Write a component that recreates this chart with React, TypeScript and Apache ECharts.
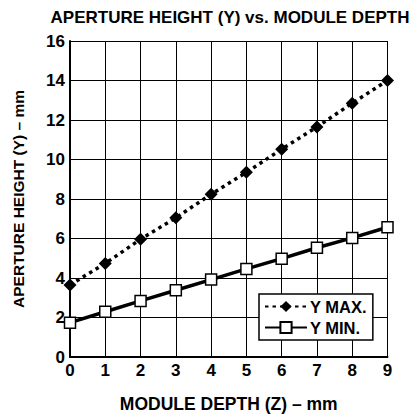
import React, { useEffect, useRef } from "react";
import * as echarts from "echarts";

const depthZ = [0, 1, 2, 3, 4, 5, 6, 7, 8, 9];
const yMax = [3.65, 4.74, 5.96, 7.05, 8.24, 9.35, 10.52, 11.65, 12.85, 14.0];
const yMin = [1.74, 2.29, 2.84, 3.38, 3.92, 4.46, 4.98, 5.53, 6.03, 6.57];
const seriesNames = ["Y MAX.", "Y MIN."];
const titleText = "APERTURE HEIGHT (Y) vs. MODULE DEPTH";
const xName = "MODULE DEPTH (Z) – mm";
const yName = "APERTURE HEIGHT (Y) – mm";

const FONT = "Liberation Sans, Arial, sans-serif";

export default function App() {
  const ref = useRef<HTMLDivElement>(null);
  useEffect(() => {
    if (!ref.current) return;
    const chart = echarts.init(ref.current, undefined, { renderer: "svg" });
    const labelStyle = { color: "#000", fontWeight: "bold" as const, fontSize: 17, fontFamily: FONT };
    chart.setOption({
      animation: false,
      backgroundColor: "#fff",
      title: {
        text: titleText,
        left: 225,
        textAlign: "center",
        top: 4,
        textStyle: { color: "#000", fontWeight: "bold", fontSize: 17, fontFamily: FONT },
      },
      grid: { left: 70, right: 29.5, top: 41, bottom: 61, containLabel: false },
      legend: {
        data: seriesNames,
        orient: "vertical",
        left: 259,
        top: 294,
        padding: [4, 6, 4, 5],
        itemGap: 4,
        itemWidth: 42,
        itemHeight: 14,
        backgroundColor: "#fff",
        borderColor: "#000",
        borderWidth: 1.5,
        borderRadius: 0,
        textStyle: { ...labelStyle, fontSize: 16.5, padding: [0, 0, 0, -2] },
      },
      xAxis: {
        type: "value",
        min: 0,
        max: 9,
        interval: 1,
        name: xName,
        nameLocation: "middle",
        nameGap: 38,
        nameTextStyle: { ...labelStyle, fontSize: 17.5 },
        axisLine: { show: true, lineStyle: { color: "#000", width: 2 } },
        axisTick: { show: false },
        axisLabel: { ...labelStyle, margin: 5 },
        splitLine: { show: true, lineStyle: { color: "#000", width: 1 } },
      },
      yAxis: {
        type: "value",
        min: 0,
        max: 16,
        interval: 2,
        name: yName,
        nameLocation: "middle",
        nameGap: 44,
        nameTextStyle: { ...labelStyle, fontSize: 15.5 },
        axisLine: { show: true, lineStyle: { color: "#000", width: 2 } },
        axisTick: { show: false },
        axisLabel: { ...labelStyle, margin: 5 },
        splitLine: { show: true, lineStyle: { color: "#000", width: 1 } },
      },
      series: [
        {
          name: seriesNames[0],
          type: "line",
          data: depthZ.map((z, i) => [z, yMax[i]]),
          symbol: "diamond",
          symbolSize: 13,
          itemStyle: { color: "#000" },
          lineStyle: { color: "#000", width: 3.5, type: [3.5, 4] },
          z: 3,
        },
        {
          name: seriesNames[1],
          type: "line",
          data: depthZ.map((z, i) => [z, yMin[i]]),
          symbol: "rect",
          symbolSize: 11,
          itemStyle: { color: "#fff", borderColor: "#000", borderWidth: 1.5 },
          lineStyle: { color: "#000", width: 3.5 },
          z: 3,
        },
      ],
    });
    return () => chart.dispose();
  }, []);
  return (
    <div
      ref={ref}
      style={{ position: "fixed", left: 0, top: 0, width: 417, height: 418 }}
    />
  );
}
